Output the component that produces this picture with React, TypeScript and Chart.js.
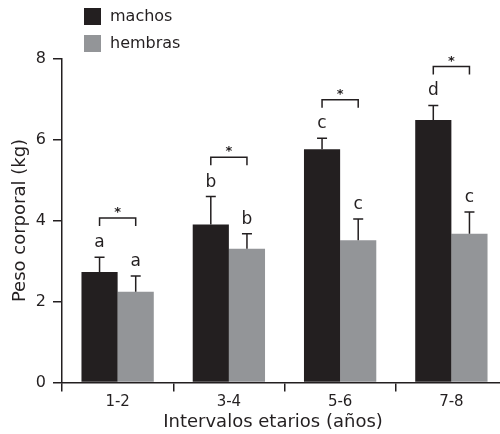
import React, { useEffect, useRef } from "react";
import { Chart, registerables } from "chart.js";

Chart.register(...registerables);

const categories = ["1-2", "3-4", "5-6", "7-8"];
const machos = [2.73, 3.9, 5.76, 6.48];
const machosErr = [0.36, 0.69, 0.27, 0.36];
const hembras = [2.24, 3.3, 3.51, 3.67];
const hembrasErr = [0.39, 0.37, 0.53, 0.54];
const machosLetters = ["a", "b", "c", "d"];
const hembrasLetters = ["a", "b", "c", "c"];
const bracketLevels = [4.06, 5.56, 6.98, 7.8];
const bracketMarks = ["*", "*", "*", "*"];
const yTicks = [0, 2, 4, 6, 8];

const INK = "#231f20";
const GREY = "#939598";
const FONT = "'DejaVu Sans', sans-serif";

const overlay = {
  id: "overlay",
  afterDatasetsDraw(chart: any) {
    const { ctx, scales } = chart;
    const y = scales.y;
    const errs = [machosErr, hembrasErr];
    const letters = [machosLetters, hembrasLetters];
    ctx.save();
    ctx.strokeStyle = INK;
    ctx.fillStyle = INK;
    ctx.lineWidth = 1.5;
    chart.data.datasets.forEach((ds: any, di: number) => {
      const meta = chart.getDatasetMeta(di);
      meta.data.forEach((bar: any, i: number) => {
        const v = ds.data[i];
        const top = y.getPixelForValue(v + errs[di][i]);
        const base = bar.y;
        ctx.beginPath();
        ctx.moveTo(bar.x, base);
        ctx.lineTo(bar.x, top);
        ctx.moveTo(bar.x - 5, top);
        ctx.lineTo(bar.x + 5, top);
        ctx.stroke();
        ctx.font = `17px ${FONT}`;
        ctx.textAlign = "center";
        ctx.textBaseline = "alphabetic";
        ctx.fillText(letters[di][i], bar.x, top - 10);
      });
    });
    const m0 = chart.getDatasetMeta(0);
    const m1 = chart.getDatasetMeta(1);
    bracketLevels.forEach((lvl, i) => {
      const x0 = m0.data[i].x;
      const x1 = m1.data[i].x;
      const py = y.getPixelForValue(lvl);
      ctx.beginPath();
      ctx.moveTo(x0, py + 8);
      ctx.lineTo(x0, py);
      ctx.lineTo(x1, py);
      ctx.lineTo(x1, py + 8);
      ctx.stroke();
      ctx.font = `bold 13px ${FONT}`;
      ctx.textAlign = "center";
      ctx.textBaseline = "alphabetic";
      ctx.fillText(bracketMarks[i], (x0 + x1) / 2, py - 2);
    });
    // legend
    chart.data.datasets.forEach((ds: any, di: number) => {
      const ly = 8 + di * 27;
      ctx.fillStyle = ds.backgroundColor;
      ctx.fillRect(84, ly, 17, 17);
      ctx.fillStyle = INK;
      ctx.font = `16px ${FONT}`;
      ctx.textAlign = "left";
      ctx.textBaseline = "middle";
      ctx.fillText(ds.label, 110, ly + 8.5);
    });
    // x title
    ctx.font = `18px ${FONT}`;
    ctx.textAlign = "center";
    ctx.textBaseline = "middle";
    ctx.fillText("Intervalos etarios (años)", 273, 422);
    ctx.restore();
  },
};

export default function App() {
  const ref = useRef<HTMLCanvasElement | null>(null);
  useEffect(() => {
    if (!ref.current) return;
    const chart = new Chart(ref.current, {
      type: "bar",
      data: {
        labels: categories,
        datasets: [
          { label: "machos", data: machos, backgroundColor: INK, categoryPercentage: 0.65, barPercentage: 1 },
          { label: "hembras", data: hembras, backgroundColor: GREY, categoryPercentage: 0.65, barPercentage: 1 },
        ],
      },
      options: {
        responsive: false,
        animation: false,
        layout: { padding: { top: 58.5, right: 0, left: 0, bottom: 0 } },
        plugins: { legend: { display: false }, tooltip: { enabled: false } },
        scales: {
          x: {
            grid: { drawOnChartArea: false, drawTicks: true, tickLength: 9, color: INK, lineWidth: 1.5, offset: true },
            border: { display: true, color: INK, width: 1.5 },
            ticks: { color: INK, font: { family: FONT, size: 15 }, padding: 2 },
            afterFit: (s: any) => { s.height = 51.5; },
          },
          y: {
            min: 0,
            max: 8,
            afterBuildTicks: (s: any) => { s.ticks = yTicks.map((v) => ({ value: v })); },
            grid: { drawOnChartArea: false, drawTicks: true, tickLength: 9, color: INK, lineWidth: 1.5 },
            border: { display: true, color: INK, width: 1.5 },
            ticks: { color: INK, font: { family: FONT, size: 16 }, padding: 7 },
            title: {
              display: true,
              text: "Peso corporal (kg)",
              color: INK,
              font: { family: FONT, size: 18 },
              padding: { top: 10, bottom: 0 },
            },
            afterFit: (s: any) => { s.width = 62; },
          },
        },
      },
      plugins: [overlay],
    });
    return () => chart.destroy();
  }, []);
  return (
    <div style={{ position: "absolute", left: 0, top: 0, width: 500, height: 434, overflow: "hidden", background: "#fff" }}>
      <canvas ref={ref} width={507} height={434} style={{ display: "block" }} />
    </div>
  );
}
